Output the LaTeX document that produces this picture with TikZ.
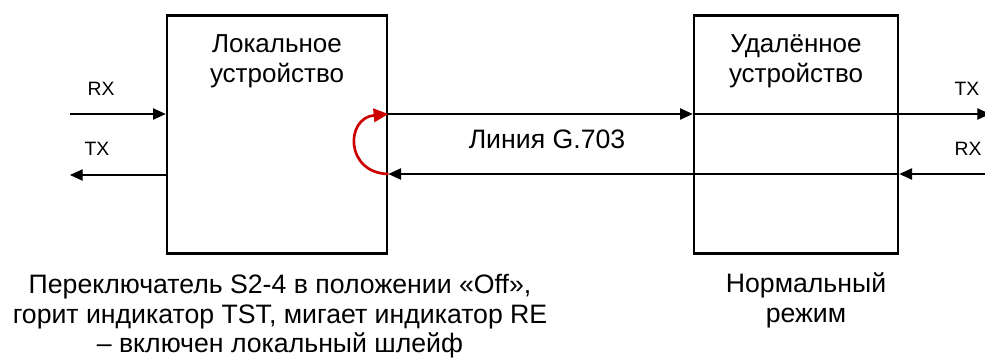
\documentclass[tikz,border=0pt]{standalone}
\usepackage{fontspec}
\setmainfont{Liberation Sans}
\usetikzlibrary{arrows.meta}
\definecolor{loopred}{RGB}{204,0,0}
\tikzset{
  devbox/.style={draw, line width=2pt, inner sep=0pt},
  conn/.style={line width=0.9pt, -{Triangle[length=9.5pt,width=8.5pt]}},
  loopline/.style={draw=loopred, line width=2pt, -{Triangle[length=11pt,width=10pt]}},
  titletxt/.style={font=\fontsize{19.5}{23}\selectfont, anchor=base, inner sep=0pt},
  bigtxt/.style={font=\fontsize{20}{24}\selectfont, anchor=base, inner sep=0pt},
  smalltxt/.style={font=\fontsize{14.5}{17}\selectfont, anchor=base, inner sep=0pt},
}
\begin{document}
\begin{tikzpicture}[x=0.75pt,y=-0.75pt]
\useasboundingbox (0,0) rectangle (985,360);
% boxes
\node[devbox, minimum width=165pt, minimum height=178.5pt] (loc) at (277,134.5) {};
\node[devbox, minimum width=153pt, minimum height=178.5pt] (rem) at (796,134.5) {};
% free ends
\coordinate (rxin) at (70,114);
\coordinate (txout) at (70,175);
\coordinate (txr) at (990,114);
\coordinate (rxr) at (985,174);
\coordinate (locT) at (loc.east |- 0,114);
\coordinate (locB) at (loc.east |- 0,174);
\coordinate (remTW) at (rem.west |- 0,114);
\coordinate (remBE) at (rem.east |- 0,174);
% connectors
\draw[conn] (rxin) -- (rxin -| loc.west);
\draw[conn] (txout -| loc.west) -- (txout);
\draw[conn] (locT) -- (remTW);
\draw[conn] (remTW) -- (txr);
\draw[conn] (rxr) -- (remBE);
\draw[conn] (remBE) -- (locB);
% loop
\draw[loopline] (locB) .. controls (345,173) and (345,118) .. (locT);
% texts
\node[titletxt] (l1) at (277,53) {Локальное};
\node[titletxt] (l2) at (277,83) {устройство};
\node[titletxt] (r1) at (796,53) {Удалённое};
\node[titletxt] (r2) at (796,83) {устройство};
\node[smalltxt] (rxl) at (101,96) {RX};
\node[smalltxt] (txl) at (97,155) {TX};
\node[smalltxt] (txrl) at (967,95) {TX};
\node[smalltxt] (rxrl) at (968,155) {RX};
\node[bigtxt] (line) at (547,148) {Линия G.703};
\node[bigtxt] (b1) at (280,293) {Переключатель S2-4 в положении «Off»,};
\node[bigtxt] (b2) at (280,323) {горит индикатор TST, мигает индикатор RE};
\node[bigtxt] (b3) at (280,352) {– включен локальный шлейф};
\node[bigtxt] (n1) at (806,292) {Нормальный};
\node[bigtxt] (n2) at (806,322) {режим};
\end{tikzpicture}
\end{document}
